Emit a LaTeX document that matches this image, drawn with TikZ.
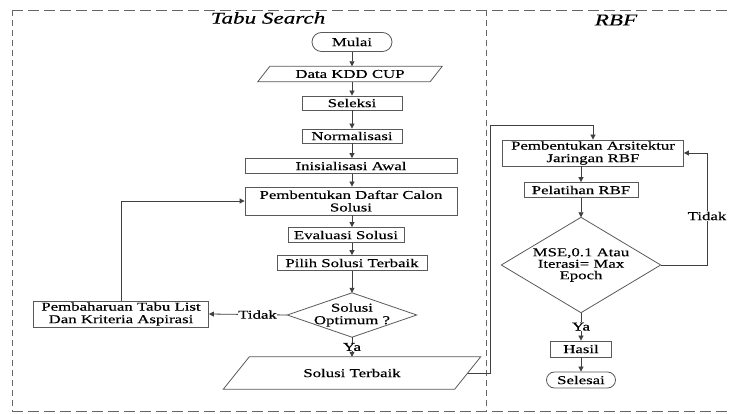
\documentclass[tikz,border=0pt]{standalone}
\usepackage{fontspec}
\setmainfont{Liberation Serif}[FakeStretch=1.4,FakeBold=0.4]
\usetikzlibrary{shapes.misc,arrows.meta,calc}
\tikzset{
  frame/.style={draw=black!60, line width=0.9pt, dash pattern=on 11pt off 5pt},
  vframe/.style={draw=black!60, line width=0.9pt, dash pattern=on 6pt off 4pt},
  title/.style={font=\fontsize{16.5}{18}\selectfont\itshape, inner sep=0pt},
  box/.style={draw=black!65, line width=0.8pt, fill=white, font=\fontsize{12}{12.5}\selectfont, inner sep=0pt, align=center},
  txt/.style={inner sep=0pt, align=center, font=\fontsize{12}{12.5}\selectfont},
  shapeline/.style={draw=black!65, line width=0.8pt},
  term/.style={box, rounded rectangle},
  arr/.style={draw=black!75, line width=0.8pt, -{Triangle[length=5pt,width=5pt]}},
  lbl/.style={fill=white, inner sep=0.5pt, font=\fontsize{12}{12.5}\selectfont}
}
\begin{document}
\begin{tikzpicture}[x=1pt,y=-1pt]
\useasboundingbox (0,0) rectangle (732,414);
% frame
\coordinate (ftl) at (12,10);
\coordinate (ftr) at (740,10);
\coordinate (fbl) at (12,411);
\coordinate (fbr) at (740,411);
\coordinate (dvt) at (486,10);
\coordinate (dvb) at (486,411);
\draw[frame] (ftl) -- (ftr);
\draw[frame] (fbl) -- (fbr);
\draw[vframe] (ftl) -- (fbl);
\draw[vframe] (dvt) -- (dvb);
\node[title] (tts) at (268,18) {Tabu Search};
\node[title] (trbf) at (616,20) {RBF};

% Tabu search column
\node[term, minimum width=80pt, minimum height=19pt] (mulai) at (352,42) {Mulai};
\node[txt, minimum width=172pt, minimum height=15pt] (data) at (350,74) {Data KDD CUP};
\draw[shapeline] ([xshift=-6pt]data.south west) -- ([xshift=6pt]data.north west) -- ([xshift=6pt]data.north east) -- ([xshift=-6pt]data.south east) -- cycle;
\node[box, minimum width=100pt, minimum height=14pt] (sel) at (352,103) {Seleksi};
\node[box, minimum width=100pt, minimum height=14pt] (norm) at (352,136) {Normalisasi};
\node[box, minimum width=212pt, minimum height=15pt] (inis) at (351,166) {Inisialisasi Awal};
\node[box, minimum width=212pt, minimum height=28pt] (pemb) at (351,201) {Pembentukan Daftar Calon\\Solusi};
\node[box, minimum width=116pt, minimum height=15pt] (eval) at (346,235) {Evaluasi Solusi};
\node[box, minimum width=150pt, minimum height=15pt] (pilih) at (352,263) {Pilih Solusi Terbaik};
\node[txt, minimum width=129pt, minimum height=44pt] (opt) at (352,315) {Solusi\\Optimum ?};
\draw[shapeline] (opt.north) -- (opt.east) -- (opt.south) -- (opt.west) -- cycle;
\node[box, minimum width=175pt, minimum height=26pt] (pemba) at (121,314) {Pembaharuan Tabu List\\Dan Kriteria Aspirasi};
\node[txt, minimum width=231pt, minimum height=32pt] (sol) at (352,373) {Solusi Terbaik};
\draw[shapeline] ([xshift=-13pt]sol.south west) -- ([xshift=13pt]sol.north west) -- ([xshift=13pt]sol.north east) -- ([xshift=-13pt]sol.south east) -- cycle;

\draw[arr] (mulai.south) -- (mulai.south |- data.north);
\draw[arr] (data.south -| mulai.south) -- (sel.north);
\draw[arr] (sel.south) -- (norm.north);
\draw[arr] (norm.south) -- (norm.south |- inis.north);
\draw[arr] (inis.south -| norm.south) -- (norm.south |- pemb.north);
\draw[arr] (pemb.south -| norm.south) -- (norm.south |- eval.north);
\draw[arr] (eval.south -| norm.south) -- (pilih.north);
\draw[arr] (pilih.south) -- (opt.north);
\draw[arr] (opt.west) -- node[lbl, pos=0.38] (ltidak1) {Tidak} (pemba.east);
\draw[arr] (pemba.north) |- (pemb.west);
\draw[arr] (opt.south) -- node[lbl] (lya1) {Ya} (sol.north);

% RBF column
\node[box, minimum width=181pt, minimum height=26pt] (arsi) at (593,153) {Pembentukan Arsitektur\\Jaringan RBF};
\node[box, minimum width=114pt, minimum height=15pt] (pelat) at (581,190) {Pelatihan RBF};
\node[txt, minimum width=159pt, minimum height=95pt, font=\fontsize{12}{11.5}\selectfont] (mse) at (581,265) {MSE,0.1 Atau\\Iterasi= Max\\Epoch};
\draw[shapeline] (mse.north) -- (mse.east) -- (mse.south) -- (mse.west) -- cycle;
\node[box, minimum width=61pt, minimum height=16pt] (hasil) at (581,349) {Hasil};
\node[term, minimum width=69pt, minimum height=16pt] (selesai) at (581,380) {Selesai};

\coordinate (j1) at (490,125);
\coordinate (j2) at (707,153);
\draw[arr] (sol.east) -| (j1) -| (arsi.north);
\draw[arr] (arsi.south -| pelat.north) -- (pelat.north);
\draw[arr] (pelat.south) -- (mse.north);
\draw[arr] (mse.east) -| (j2) -- (arsi.east);
\node[lbl] (ltidak2) at (707,216) {Tidak};
\draw[arr] (mse.south) -- node[lbl] (lya2) {Ya} (hasil.north);
\draw[arr] (hasil.south) -- (selesai.north);
\end{tikzpicture}
\end{document}
